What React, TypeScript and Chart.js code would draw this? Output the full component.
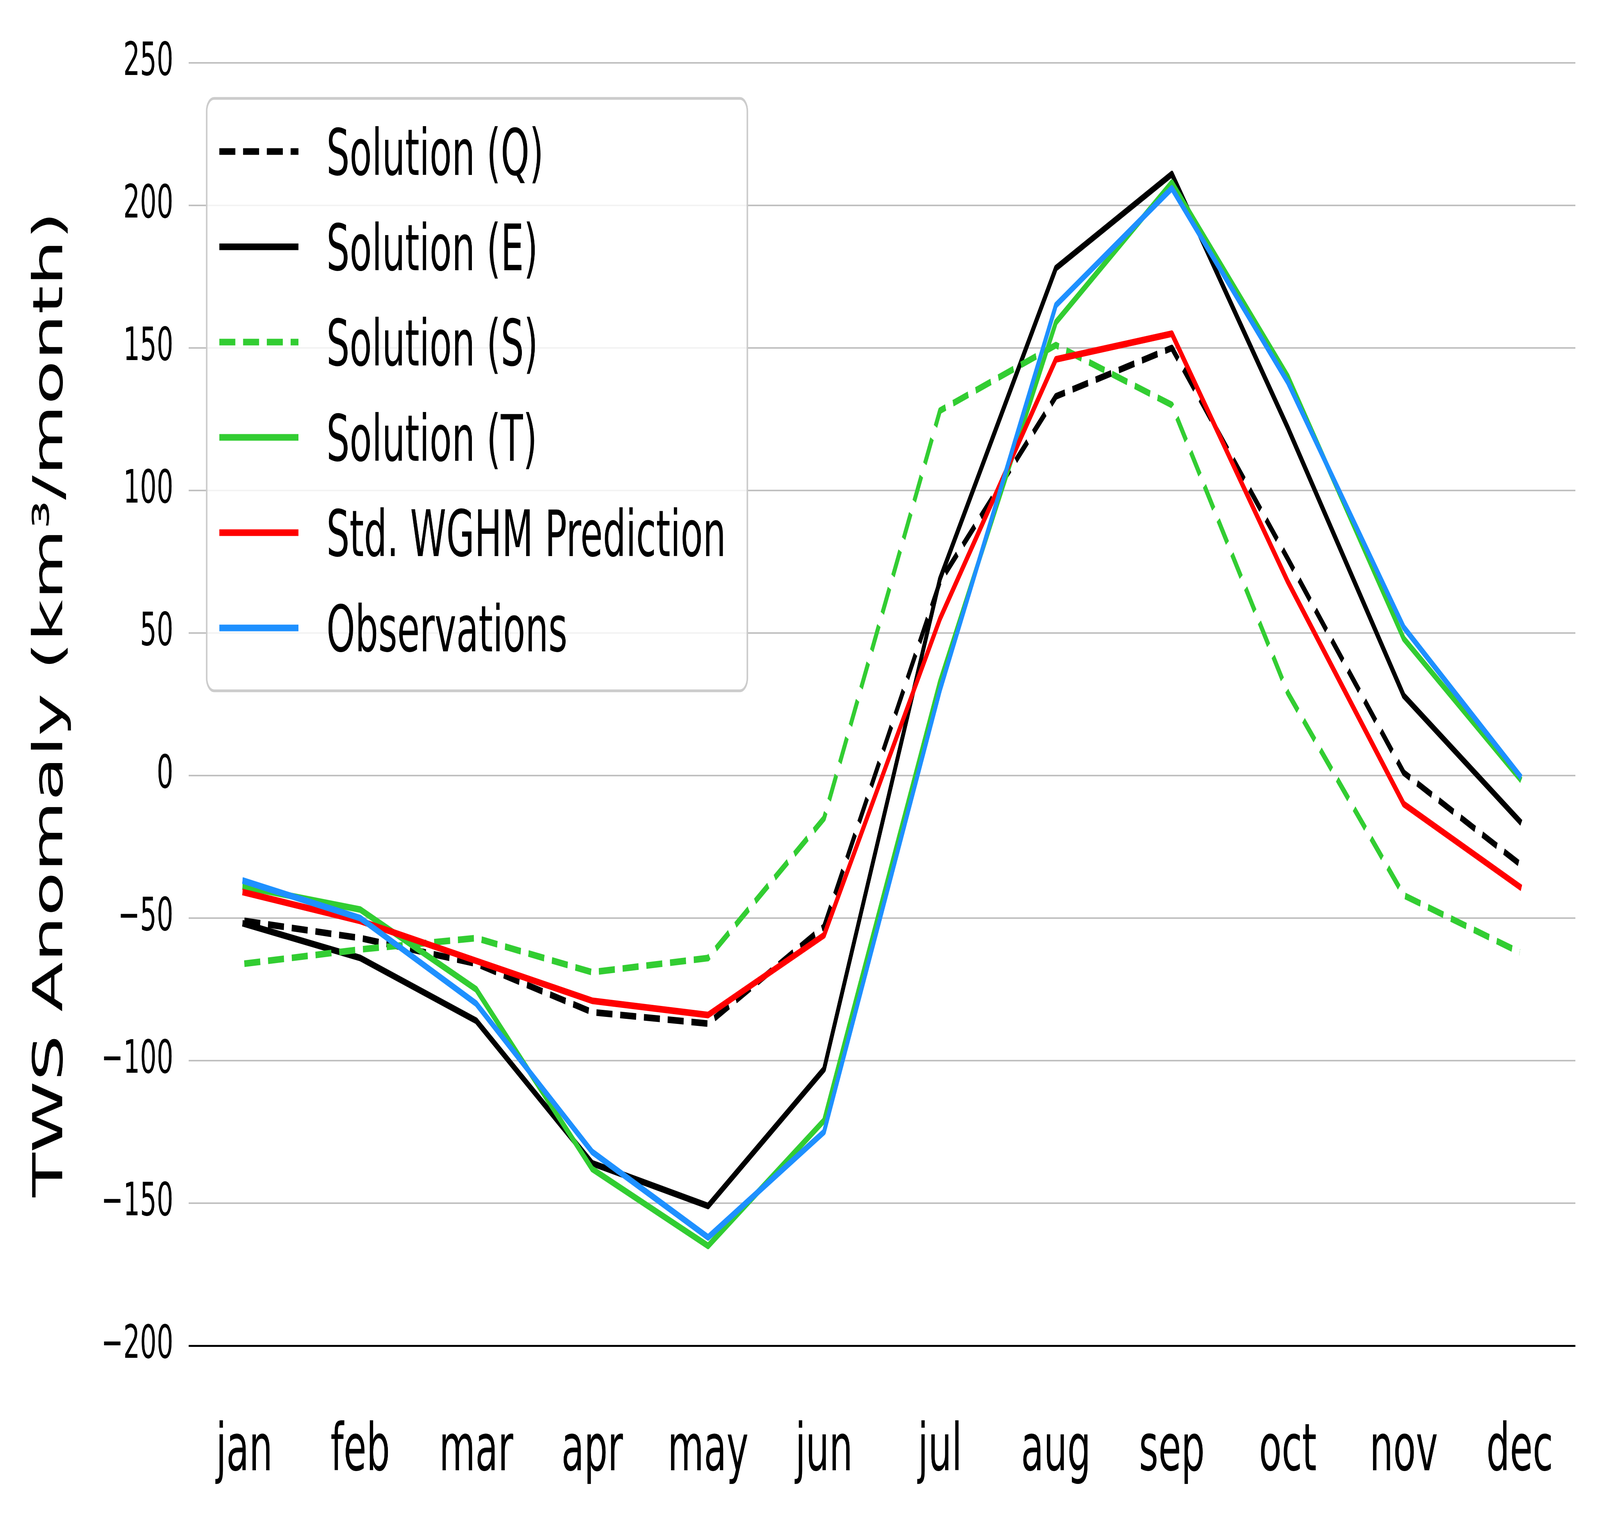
import React, { useEffect, useRef } from "react";
import { Chart, registerables } from "chart.js";

Chart.register(...registerables);

const months = ["jan", "feb", "mar", "apr", "may", "jun", "jul", "aug", "sep", "oct", "nov", "dec"];
const solutionQ = [-51, -57, -66, -83, -87, -53, 68, 133, 150, 76, 1, -31];
const solutionE = [-52, -64, -86, -136, -151, -103, 69, 178, 211, 122, 28, -16];
const solutionS = [-66, -61, -57, -69, -64, -15, 128, 151, 130, 29, -42, -62];
const solutionT = [-39, -47, -75, -138, -165, -121, 33, 159, 208, 140, 48, -1];
const wghm = [-41, -51, -65, -79, -84, -56, 55, 146, 155, 68, -10, -39];
const observations = [-37, -50, -80, -132, -162, -125, 30, 165, 206, 138, 52, 0];
const yTicks = [-200, -150, -100, -50, 0, 50, 100, 150, 200, 250];

const FONT = '"DejaVu Sans", "Liberation Sans", sans-serif';
const CW = 7200;
const CH = 3900;

const toPoints = (vals: number[]) => vals.map((v, i) => ({ x: i, y: v }));

const legendPlugin = {
  id: "boxLegend",
  afterDraw(chart: any) {
    const ctx = chart.ctx as CanvasRenderingContext2D;
    ctx.save();
    const x0 = 930, y0 = 252, x1 = 3363, y1 = 1769;
    ctx.beginPath();
    (ctx as any).roundRect(x0, y0, x1 - x0, y1 - y0, 33);
    ctx.fillStyle = "rgba(255,255,255,0.8)";
    ctx.fill();
    ctx.lineWidth = 7;
    ctx.strokeStyle = "#cccccc";
    ctx.stroke();
    chart.data.datasets.forEach((ds: any, i: number) => {
      const cy = 388 + i * 244;
      ctx.beginPath();
      ctx.setLineDash(ds.borderDash || []);
      ctx.lineWidth = ds.borderWidth;
      ctx.strokeStyle = ds.borderColor;
      ctx.lineCap = "butt";
      ctx.moveTo(987, cy);
      ctx.lineTo(1343, cy);
      ctx.stroke();
      ctx.setLineDash([]);
      ctx.fillStyle = "#000";
      ctx.font = `164px ${FONT}`;
      ctx.textBaseline = "alphabetic";
      ctx.textAlign = "left";
      ctx.fillText(ds.label, 1469, cy + 60);
    });
    ctx.restore();
  },
};

export default function App() {
  const ref = useRef<HTMLCanvasElement>(null);
  const W = typeof window !== "undefined" && window.innerWidth ? window.innerWidth : CW;
  const H = typeof window !== "undefined" && window.innerHeight ? window.innerHeight : CH;
  useEffect(() => {
    document.body.style.margin = "0";
    document.body.style.overflow = "hidden";
    const LW = 17;
    const DASH = [72, 35];
    const mk = (label: string, data: number[], color: string, dashed: boolean, order: number) => ({
      label,
      data: toPoints(data),
      borderColor: color,
      backgroundColor: color,
      borderWidth: LW,
      borderDash: dashed ? DASH : [],
      borderCapStyle: dashed ? "butt" : "square",
      borderJoinStyle: "round",
      pointRadius: 0,
      pointHoverRadius: 0,
      tension: 0,
      fill: false,
      order,
    });
    const chart = new Chart(ref.current as HTMLCanvasElement, {
      type: "line",
      data: {
        datasets: [
          mk("Solution (Q)", solutionQ, "#000000", true, 5),
          mk("Solution (E)", solutionE, "#000000", false, 4),
          mk("Solution (S)", solutionS, "#32cd32", true, 3),
          mk("Solution (T)", solutionT, "#32cd32", false, 2),
          mk("Std. WGHM Prediction", wghm, "#ff0000", false, 1),
          mk("Observations", observations, "#1e90ff", false, 0),
        ] as any,
      },
      options: {
        responsive: false,
        animation: false,
        devicePixelRatio: 1,
        layout: { padding: { top: 161, right: CW - 7089, left: 0, bottom: 0 } },
        plugins: { legend: { display: false }, tooltip: { enabled: false }, title: { display: false } },
        scales: {
          x: {
            type: "linear",
            min: -0.48,
            max: 11.48,
            afterBuildTicks: (sc: any) => {
              sc.ticks = months.map((_, i) => ({ value: i }));
            },
            afterFit: (sc: any) => {
              sc.height = CH - 3446;
            },
            ticks: {
              callback: (v: any) => months[Math.round(Number(v))] ?? "",
              font: { family: FONT, size: 167 },
              color: "#000",
              padding: 175,
              autoSkip: false,
              maxRotation: 0,
              minRotation: 0,
            },
            grid: { display: false, drawTicks: false },
            border: { display: false },
          },
          y: {
            type: "linear",
            min: -200,
            max: 250,
            afterBuildTicks: (sc: any) => {
              sc.ticks = yTicks.map((v) => ({ value: v }));
            },
            afterFit: (sc: any) => {
              sc.width = 849;
            },
            ticks: {
              callback: (v: any) => (Number(v) < 0 ? "\u2212" + Math.abs(Number(v)) : String(v)),
              font: { family: FONT, size: 118 },
              color: "#000",
              padding: 69,
            },
            grid: {
              drawTicks: false,
              color: (c: any) => (c.tick && c.tick.value === -200 ? "#000000" : "#c0c0c0"),
              lineWidth: (c: any) => (c.tick && c.tick.value === -200 ? 5 : 4),
            },
            border: { display: false },
            title: {
              display: true,
              text: "TWS Anomaly (km\u00b3/month)",
              font: { family: FONT, size: 186 },
              color: "#000",
              padding: { top: 120, bottom: 0 },
            },
          },
        },
      } as any,
      plugins: [legendPlugin],
    });
    return () => chart.destroy();
  }, []);
  return (
    <div style={{ width: W, height: H, overflow: "hidden" }}>
      <canvas ref={ref} width={CW} height={CH} style={{ width: W, height: H, display: "block" }} />
    </div>
  );
}
